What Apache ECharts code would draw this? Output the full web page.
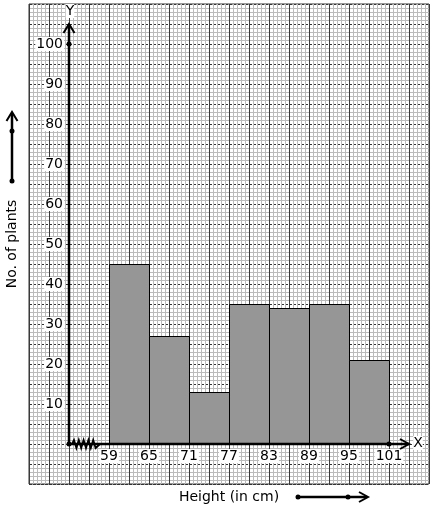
<!DOCTYPE html>
<html>
<head>
<meta charset="utf-8">
<script src="https://cdn.jsdelivr.net/npm/echarts@6/dist/echarts.min.js"></script>
<style>
html,body{margin:0;padding:0;background:#fff;}
#chart{width:434px;height:510px;}
</style>
</head>
<body>
<div id="chart"></div>
<script>
// ---- data ----
const classEdges = [59, 65, 71, 77, 83, 89, 95, 101];
const plantCounts = [45, 27, 13, 35, 34, 35, 21];
const xTickLabels = [59, 65, 71, 77, 83, 89, 95, 101];
const yTickLabels = [10, 20, 30, 40, 50, 60, 70, 80, 90, 100];
const xAxisTitle = 'Height (in cm)';
const yAxisTitle = 'No. of plants';

// axis frame (data units): origin of the broken x axis, arrow ends
const originX = 53, xArrowEnd = 104, yArrowEnd = 105;

const bars = plantCounts.map((v, i) => [classEdges[i], classEdges[i + 1], v]);

const FONT = 'DejaVu Sans';
const FS = 14;
const chart = echarts.init(document.getElementById('chart'), null, {renderer: 'canvas'});

const labelStyle = {fontFamily: FONT, fontSize: FS, color: '#000', backgroundColor: '#fff', padding: [0, 1, 0, 1]};

chart.setOption({
  animation: false,
  backgroundColor: '#fff',
  grid: {left: 29, top: 4, width: 400, height: 480, show: true, borderColor: '#333', borderWidth: 1,
         backgroundColor: '#fff', containLabel: false, outerBoundsMode: 'none'},
  xAxis: [
    { // graph paper columns
      type: 'value', min: 0, max: 100, interval: 5,
      axisLine: {show: false}, axisTick: {show: false}, axisLabel: {show: false},
      splitLine: {show: true, lineStyle: {color: '#3a3a3a', width: 1}},
      minorTick: {show: false, splitNumber: 5},
      minorSplitLine: {show: true, lineStyle: {color: '#bbbbbb', width: 1}},
      z: 0
    },
    { // data axis
      type: 'value', min: 47, max: 107, position: 'bottom', offset: -40,
      axisLine: {show: false, onZero: false}, axisTick: {show: false},
      splitLine: {show: false},
      axisLabel: Object.assign({customValues: xTickLabels, margin: 5}, labelStyle),
      name: xAxisTitle, nameLocation: 'middle', nameGap: 46,
      nameTextStyle: {fontFamily: FONT, fontSize: FS, color: '#000'},
      z: 5
    }
  ],
  yAxis: [
    { // graph paper rows
      type: 'value', min: 0, max: 120, interval: 5,
      axisLine: {show: false}, axisTick: {show: false}, axisLabel: {show: false},
      splitLine: {show: true, lineStyle: {color: '#333', width: 1, type: [3, 1]}},
      minorTick: {show: false, splitNumber: 5},
      minorSplitLine: {show: true, lineStyle: {color: '#bbbbbb', width: 1}},
      z: 0
    },
    { // data axis
      type: 'value', min: -10, max: 110, position: 'left', offset: -40,
      axisLine: {show: false, onZero: false}, axisTick: {show: false},
      splitLine: {show: false},
      axisLabel: Object.assign({customValues: yTickLabels, margin: 5}, labelStyle),
      name: yAxisTitle, nameLocation: 'middle', nameGap: 50,
      nameTextStyle: {fontFamily: FONT, fontSize: FS, color: '#000'},
      z: 5
    }
  ],
  series: [
    {
      type: 'custom', xAxisIndex: 1, yAxisIndex: 1, z: 3, silent: true,
      data: bars,
      encode: {x: [0, 1], y: 2},
      renderItem: function (params, api) {
        const p0 = api.coord([api.value(0), 0]);
        const p1 = api.coord([api.value(1), api.value(2)]);
        return {
          type: 'rect',
          shape: {x: Math.round(p0[0]) + 0.5, y: Math.round(p1[1]) + 0.5,
                  width: Math.round(p1[0] - p0[0]), height: Math.round(p0[1] - p1[1])},
          style: {fill: '#969696', stroke: '#000', lineWidth: 1}
        };
      }
    },
    {
      type: 'line', xAxisIndex: 1, yAxisIndex: 1, z: 4, silent: true, symbol: 'none',
      data: [[originX, 0], [originX, yArrowEnd]],
      lineStyle: {color: '#000', width: 2.5}
    },
    {
      type: 'line', xAxisIndex: 1, yAxisIndex: 1, z: 4, silent: true, symbol: 'none',
      data: [[originX, 0], [xArrowEnd, 0]],
      lineStyle: {color: '#000', width: 2.5}
    }
  ]
});

// ---- decorations: arrows, break zigzag, dots ----
const px = (x, y) => chart.convertToPixel({xAxisIndex: 1, yAxisIndex: 1}, [x, y]);
const O = px(originX, 0);
const YT = px(originX, yArrowEnd);
const XT = px(xArrowEnd, 0);
const P100 = px(originX, 100);
const P101 = px(101, 0);
const stroke = {stroke: '#000', lineWidth: 2, fill: null};
const g = [];
function chevUp(x, y) { g.push({type: 'polyline', z: 20, shape: {points: [[x - 5.5, y + 9], [x, y], [x + 5.5, y + 9]]}, style: stroke}); }
function chevRight(x, y) { g.push({type: 'polyline', z: 20, shape: {points: [[x - 9, y - 5], [x, y], [x - 9, y + 5]]}, style: stroke}); }
function dot(x, y) { g.push({type: 'circle', z: 21, shape: {cx: x, cy: y, r: 2.5}, style: {fill: '#000'}}); }
chevUp(YT[0], YT[1]);
chevRight(XT[0], XT[1]);
dot(O[0], O[1]); dot(P100[0], P100[1]); dot(P101[0], P101[1]);
// zigzag axis break
const zz = [[O[0] + 3, O[1]]];
let up = true;
for (let x = O[0] + 5; x <= O[0] + 29; x += 2.4) { zz.push([x, O[1] + (up ? -4 : 4)]); up = !up; }
zz.push([O[0] + 31, O[1]]);
g.push({type: 'polyline', z: 21, shape: {points: zz}, style: {stroke: '#000', lineWidth: 1.8, fill: null}});
// axis letters
g.push({type: 'text', z: 22, x: YT[0] + 1, y: 11, style: {text: 'Y', fontFamily: FONT, fontSize: FS, fill: '#000', align: 'center', verticalAlign: 'middle', backgroundColor: '#fff'}});
g.push({type: 'text', z: 22, x: XT[0] + 9, y: XT[1] - 1, style: {text: 'X', fontFamily: FONT, fontSize: FS, fill: '#000', align: 'center', verticalAlign: 'middle', backgroundColor: '#fff'}});
// outer direction arrows
g.push({type: 'line', z: 20, shape: {x1: 12, y1: 181, x2: 12, y2: 113}, style: {stroke: '#000', lineWidth: 2.5}});
chevUp(12, 112); dot(12, 131); dot(12, 181);
g.push({type: 'line', z: 20, shape: {x1: 298, y1: 497, x2: 367, y2: 497}, style: {stroke: '#000', lineWidth: 2.5}});
chevRight(368, 497); dot(298, 497); dot(348, 497);
chart.setOption({graphic: g});
</script>
</body>
</html>
